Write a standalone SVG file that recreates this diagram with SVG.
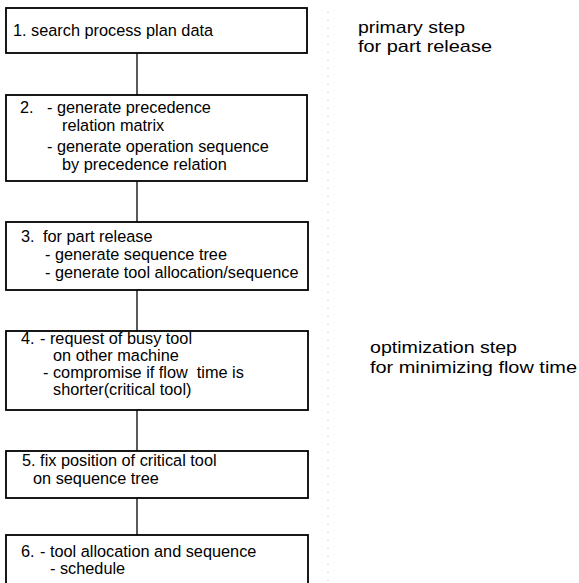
<svg xmlns="http://www.w3.org/2000/svg" width="579" height="583" viewBox="0 0 579 583">
<style>
.box{fill:#fff;stroke:#000;stroke-width:1.8}
.t{font-family:"Liberation Sans",Arial,sans-serif;font-size:16.3px;fill:#000}
.s{font-family:"Liberation Sans",Arial,sans-serif;font-size:17px;fill:#000}
.c{stroke:#000;stroke-width:1.3;fill:none}
.d{stroke:#bbb;stroke-width:1;stroke-dasharray:1 7;fill:none}
</style>
<rect width="579" height="583" fill="#fff"/>
<g id="connectors">
<line class="c" x1="137" y1="53" x2="137" y2="95"/>
<line class="c" x1="137" y1="181" x2="137" y2="222"/>
<line class="c" x1="137" y1="290" x2="137" y2="331"/>
<line class="c" x1="137" y1="410" x2="137" y2="451"/>
<line class="c" x1="137" y1="498" x2="137" y2="535"/>
</g>
<path class="d" d="M328 12 V583"/>
<g id="n1">
<rect class="box" x="6" y="8" width="301" height="45"/>
<text class="t" x="13" y="36">1. search process plan data</text>
</g>
<g id="n2">
<rect class="box" x="6" y="95" width="301" height="86"/>
<text class="t" x="20" y="113">2.</text>
<text class="t" x="47" y="113">- generate precedence</text>
<text class="t" x="62" y="131">relation matrix</text>
<text class="t" x="47" y="152">- generate operation sequence</text>
<text class="t" x="62" y="170">by precedence relation</text>
</g>
<g id="n3">
<rect class="box" x="6" y="222" width="302" height="68"/>
<text class="t" x="21" y="242">3.</text>
<text class="t" x="43" y="242">for part release</text>
<text class="t" x="45" y="260">- generate sequence tree</text>
<text class="t" x="45" y="278">- generate tool allocation/sequence</text>
</g>
<g id="n4">
<rect class="box" x="6" y="331" width="302" height="79"/>
<text class="t" x="21" y="344">4.</text>
<text class="t" x="40" y="344">- request of busy tool</text>
<text class="t" x="53" y="361">on other machine</text>
<text class="t" x="43" y="378">- compromise if flow&#160; time is</text>
<text class="t" x="53" y="395">shorter(critical tool)</text>
</g>
<g id="n5">
<rect class="box" x="6" y="451" width="302" height="47"/>
<text class="t" x="22" y="466">5. fix position of critical tool</text>
<text class="t" x="33" y="484">on sequence tree</text>
</g>
<g id="n6">
<rect class="box" x="6" y="535" width="302" height="60"/>
<text class="t" x="21" y="557">6.</text>
<text class="t" x="40" y="557">- tool allocation and sequence</text>
<text class="t" x="50" y="574">- schedule</text>
</g>
<g id="notes">
<text class="s" x="358" y="33" textLength="107" lengthAdjust="spacingAndGlyphs">primary step</text>
<text class="s" x="358" y="52" textLength="134" lengthAdjust="spacingAndGlyphs">for part release</text>
<text class="s" x="370" y="353" textLength="147" lengthAdjust="spacingAndGlyphs">optimization step</text>
<text class="s" x="370" y="373" textLength="207" lengthAdjust="spacingAndGlyphs">for minimizing flow time</text>
</g>
</svg>
